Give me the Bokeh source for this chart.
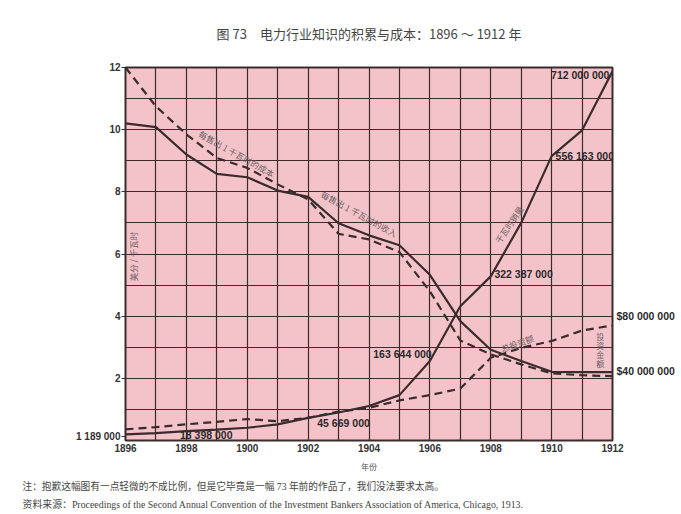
from bokeh.plotting import figure
from bokeh.models import Range1d, FixedTicker, Label, LinearAxis, Title
from bokeh.embed import file_html
from bokeh.resources import INLINE

# ---------------- data (left-axis units) ----------------
years = list(range(1896, 1913))
revenue_per_kwh = [10.2, 10.08, 9.2, 8.58, 8.47, 8.04, 7.84, 6.99, 6.6, 6.28, 5.33, 3.84, 2.92, 2.56, 2.21, 2.2, 2.2]
cost_per_kwh = [12.0, 10.75, 9.85, 9.09, 8.77, 8.24, 7.76, 6.65, 6.47, 6.06, 4.8, 3.22, 2.77, 2.45, 2.16, 2.1, 2.07]
kwh_sold = [0.2, 0.24, 0.3, 0.35, 0.41, 0.52, 0.73, 0.9, 1.11, 1.46, 2.56, 4.32, 5.28, 7.0, 9.15, 9.98, 11.88]
investment = [0.36, 0.43, 0.52, 0.6, 0.69, 0.62, 0.73, 0.93, 1.05, 1.29, 1.46, 1.67, 2.66, 2.98, 3.2, 3.54, 3.7]

x_tick_years = [1896, 1898, 1900, 1902, 1904, 1906, 1908, 1910, 1912]
y_ticks = [2, 4, 6, 8, 10, 12]

kwh_labels = ["712 000 000", "556 163 000", "322 387 000", "163 644 000", "45 669 000", "18 398 000"]
kwh_start_label = "1 189 000"
dollar_labels = ["$80 000 000", "$40 000 000"]

title_text = "图 73　电力行业知识的积累与成本：1896 ～ 1912 年"
x_label_text = "年份"
y_label_text = "美分 / 千瓦时"
series_names = ["每售出 1 千瓦时的成本", "每售出 1 千瓦时的收入", "千瓦时销量", "总投资额", "投资金额"]
note_lines = [
    "注：抱歉这幅图有一点轻微的不成比例，但是它毕竟是一幅 73 年前的作品了，我们没法要求太高。",
    "资料来源：Proceedings of the Second Annual Convention of the Investment Bankers Association of America, Chicago, 1913.",
]

# ---------------- styles ----------------
PINK = "#f3c3c9"
INK = "#3a2c2c"
GRID = "#3d2a2a"
GRAYTXT = "#6e6264"
CJK = "Noto Sans CJK SC"
SANS = "Liberation Sans"
SERIF = "Liberation Serif, Noto Sans CJK SC"

p = figure(frame_width=487, frame_height=373, output_backend="svg", toolbar_location=None,
           x_range=Range1d(1896, 1912), y_range=Range1d(0, 12),
           min_border_left=125, min_border_right=66, min_border_top=67, min_border_bottom=40)
p.background_fill_color = PINK
p.border_fill_color = "white"
p.outline_line_color = INK
p.outline_line_width = 2

p.xgrid.ticker = FixedTicker(ticks=years)
p.ygrid.ticker = FixedTicker(ticks=list(range(0, 13)))
for g in (p.xgrid, p.ygrid):
    g.grid_line_color = GRID
    g.grid_line_width = 1.2
    g.grid_line_alpha = 1.0

# left axis: cents per kWh, plus the starting kWh figure
p.yaxis.ticker = FixedTicker(ticks=[kwh_sold[0] - 0.06] + y_ticks)
p.yaxis.major_label_overrides = {kwh_sold[0] - 0.06: kwh_start_label}
p.xaxis.ticker = FixedTicker(ticks=x_tick_years)
p.xaxis.axis_label = x_label_text
p.xaxis.axis_label_text_font = CJK
p.xaxis.axis_label_text_font_size = "8px"
p.xaxis.axis_label_text_font_style = "normal"
p.xaxis.axis_label_text_color = "#555555"
p.xaxis.axis_label_standoff = 6

# right axis: dollar figures for investment
right = LinearAxis(ticker=FixedTicker(ticks=[4.0, 2.23]),
                   major_label_overrides={4.0: dollar_labels[0], 2.23: dollar_labels[1]})
p.add_layout(right, "right")

for ax in (p.xaxis[0], p.yaxis[0], right):
    ax.axis_line_color = None
    ax.minor_tick_line_color = None
    ax.minor_tick_out = 0
    ax.minor_tick_in = 0
    ax.major_label_text_font = SANS
    ax.major_label_text_font_style = "bold"
    ax.major_label_text_font_size = "10px"
    ax.major_label_text_color = "#333333"
p.xaxis.major_tick_line_color = None
p.xaxis.major_tick_out = 0
p.xaxis.major_tick_in = 0
p.xaxis.major_label_standoff = 3
p.yaxis[0].major_tick_out = 4
p.yaxis[0].major_tick_in = 0
p.yaxis[0].major_tick_line_color = INK
p.yaxis[0].major_tick_line_width = 1.2
p.yaxis[0].major_label_standoff = 1
right.major_tick_line_color = None
right.major_tick_out = 0
right.major_tick_in = 0
right.major_label_standoff = 4
right.major_label_text_font_size = "10.5px"
right.major_label_text_color = "#2a2a2a"

# ---------------- lines ----------------
p.line(years, revenue_per_kwh, line_color=INK, line_width=2.2)
p.line(years, cost_per_kwh, line_color=INK, line_width=2.2, line_dash="8 5")
p.line(years, kwh_sold, line_color=INK, line_width=2.2)
p.line(years, investment, line_color=INK, line_width=2.2, line_dash="8 5")


def lab(x, y, text, size, color, align="left", baseline="middle", angle=0.0,
        font=SANS, style="normal"):
    p.add_layout(Label(x=x, y=y, text=text, text_font_size=size, text_color=color,
                       text_align=align, text_baseline=baseline, angle=angle,
                       text_font=font, text_font_style=style))


# value labels of kWh sold
kwh_label_pos = [(1911.9, 11.75, "right"), (1910.13, 9.15, "left"), (1908.12, 5.35, "left"),
                 (1904.14, 2.78, "left"), (1902.3, 0.56, "left"), (1897.79, 0.18, "left")]
for t, (x, y, a) in zip(kwh_labels, kwh_label_pos):
    lab(x, y, t, "10.5px", "#2a2a2a", align=a, style="bold")

# series names along the curves
lab(1899.66, 9.23, series_names[0], "8.5px", GRAYTXT, align="center", angle=-0.51, font=CJK)
lab(1903.68, 7.3, series_names[1], "8.5px", GRAYTXT, align="center", angle=-0.5, font=CJK)
lab(1908.59, 6.95, series_names[2], "8.5px", GRAYTXT, align="center", angle=0.98, font=CJK)
lab(1908.87, 3.14, series_names[3], "8.5px", GRAYTXT, align="center", angle=0.33, font=CJK)
for i, ch in enumerate(series_names[4]):
    lab(1911.6, 3.36 - 0.29 * i, ch, "8px", GRAYTXT, align="center", font=CJK)
lab(1896.23, 5.92, y_label_text, "8.5px", GRAYTXT, align="center", angle=1.5708, font=CJK)

# title and notes
p.add_layout(Title(text=title_text, align="center", vertical_align="top", text_font=CJK,
                   text_font_size="13px", text_font_style="normal", text_color="#444444",
                   standoff=46, offset=3), "above")
p.add_layout(Title(text=note_lines[0], align="left", offset=-103, text_font=SERIF,
                   text_font_size="9.7px", text_font_style="normal", text_color="#444444",
                   standoff=9), "below")
p.add_layout(Title(text=note_lines[1], align="left", offset=-103, text_font=SERIF,
                   text_font_size="9.9px", text_font_style="normal", text_color="#444444",
                   standoff=1), "below")

open("out.html", "w").write(file_html(p, INLINE))
